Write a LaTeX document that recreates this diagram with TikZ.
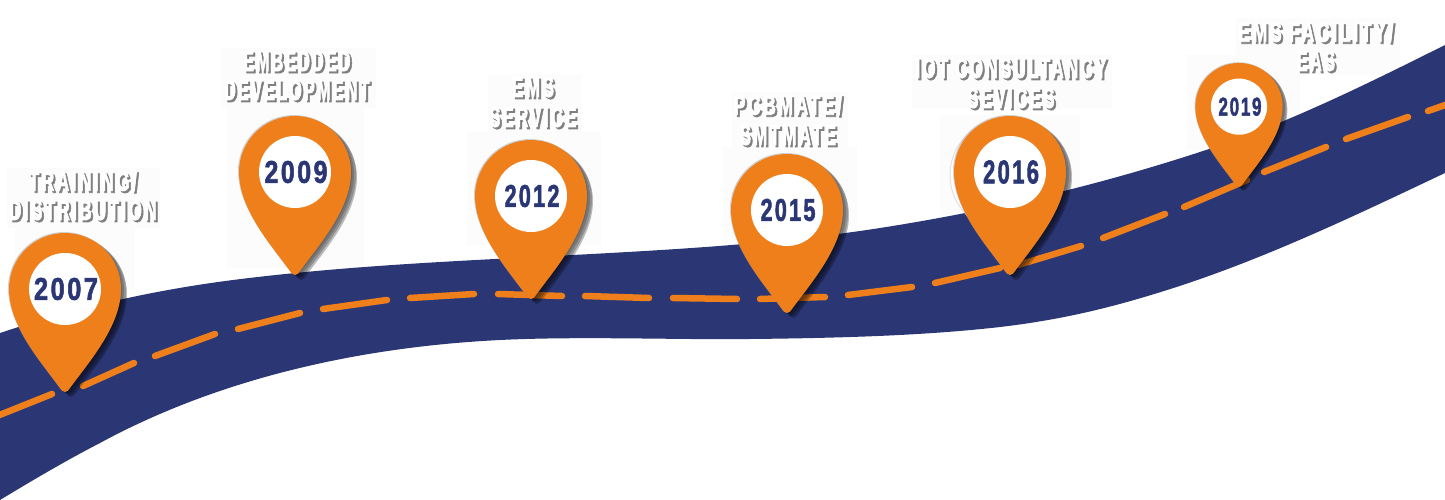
\documentclass[tikz,border=0pt]{standalone}
\usepackage{graphicx}
\usepackage{fontspec}
\setmainfont{Liberation Sans}
\newfontfamily\lblfont[LetterSpace=16,FakeBold=3]{Liberation Sans Bold}
\newfontfamily\yearfont[LetterSpace=10,FakeBold=2]{Liberation Sans Bold}
\definecolor{roadblue}{HTML}{2B3775}
\definecolor{pinorange}{HTML}{EE7F1A}
\definecolor{faintbox}{HTML}{FCFCFC}
\definecolor{lblshadow}{HTML}{808080}
\tikzset{
  faint/.style={fill=faintbox,draw=none},
  roadfill/.style={fill=roadblue,draw=none},
  roaddash/.style={draw=pinorange,line width=6.5pt,line cap=round},
  pinbody/.style={fill=pinorange,draw=none},
  pinhole/.style={fill=white,draw=none},
  shadowlayer/.style={fill=black,draw=none,fill opacity=#1},
  txt/.style={inner sep=0pt,outer sep=0pt,anchor=center},
}
\newcommand{\pinoutline}{(0,0) .. controls (-2,0) and (-4,-2) .. (-5,-4) .. controls (-24,-30) and (-56,-66) .. (-56,-103) .. controls (-56,-134) and (-31,-159) .. (0,-159) .. controls (31,-159) and (56,-134) .. (56,-103) .. controls (56,-66) and (24,-30) .. (5,-4) .. controls (4,-2) and (2,0) .. (0,0) -- cycle}
% name, cx, tip y, scale, year, year width, year height
\newcommand{\mappin}[7]{%
  \begin{scope}[shift={(#2,#3)},scale=#4]
    \fill[shadowlayer=.12] [shift={(1,1)}] \pinoutline;
    \fill[shadowlayer=.18] [shift={(3,2)}] \pinoutline;
    \fill[shadowlayer=.22] [shift={(5,3)}] \pinoutline;
    \fill[shadowlayer=.26] [shift={(6,5)}] \pinoutline;
    \fill[fill=black!35,fill opacity=.5] [shift={(-1,-1)}] \pinoutline;
    \fill[pinbody] \pinoutline;
    \fill[pinhole] (0,-103) circle (36);
  \end{scope}
  \node[txt,text=roadblue] (#1) at (#2+1,#3-103*#4) {\resizebox{#6pt}{#7pt}{\yearfont #5}};
}
% name, x, y, width, text
\newcommand{\lbl}[5]{%
  \node[txt,text=lblshadow] (#1s) at (#2+2,#3+2) {\resizebox{#4pt}{20pt}{\lblfont #5}};
  \node[txt,text=white] (#1) at (#2,#3) {\resizebox{#4pt}{20pt}{\lblfont #5}};
}
\begin{document}
\begin{tikzpicture}[x=1pt,y=-1pt]
\useasboundingbox (0,0) rectangle (1445,500);
\fill[white] (0,0) rectangle (1445,500);
% faint boxes
\foreach \a/\b/\c/\d in {7/168/160/228,15/225/135/290,222/48/376/108,227/108/364/268,488/74/582/132,466/132/601/245,732/92/848/147,722/147/857/260,912/55/1112/108,940/115/1080/215,1236/18/1400/75,1186/55/1300/150}
  \fill[faint] (\a,\b) rectangle (\c,\d);
% road
\fill[roadfill] (0,333) .. controls (78,307) and (155,290) .. (233,280)
  .. controls (359,264) and (484,260) .. (610,253)
  .. controls (700,248) and (790,242) .. (880,228)
  .. controls (989,211) and (1097,186) .. (1206,150)
  .. controls (1286,124) and (1365,85) .. (1445,45)
  -- (1445,173)
  .. controls (1350,218) and (1260,261) .. (1164,291)
  .. controls (1110,308) and (1060,320) .. (1000,327)
  .. controls (930,335) and (850,338) .. (750,339)
  .. controls (680,340) and (580,336) .. (500,340)
  .. controls (300,350) and (170,405) .. (100,443)
  .. controls (67,460) and (33,480) .. (0,500) -- cycle;
% centre dashes
\draw[roaddash] (-3,416) -- (52,394);
\draw[roaddash] (83,386) -- (134,363);
\draw[roaddash] (155,356) -- (215,334);
\draw[roaddash] (238,329) -- (300,313);
\draw[roaddash] (323,309) -- (387,300);
\draw[roaddash] (410,298) -- (474,294);
\draw[roaddash] (498,294) -- (562,296);
\draw[roaddash] (585,296) -- (649,298);
\draw[roaddash] (673,298) -- (737,299);
\draw[roaddash] (760,299) -- (825,297);
\draw[roaddash] (848,295) -- (912,287);
\draw[roaddash] (935,283) -- (1000,268);
\draw[roaddash] (1018,265) -- (1081,246);
\draw[roaddash] (1103,238) -- (1165,214);
\draw[roaddash] (1184,207) -- (1247,180);
\draw[roaddash] (1264,172) -- (1326,147);
\draw[roaddash] (1346,139) -- (1408,117);
\draw[roaddash] (1428,111) -- (1448,104);
% white crescent behind 2016
\fill[white,draw=black!12,line width=1pt] (1006,175) circle (56);
\mappin{y2007}{65}{392}{1}{2007}{64}{22}
\mappin{y2009}{295}{275}{1}{2009}{63}{22}
\mappin{y2012}{531}{299}{1}{2012}{55}{22}
\mappin{y2015}{787}{313}{1}{2015}{55}{22}
\mappin{y2016}{1010}{275}{1}{2016}{56}{23}
\mappin{y2019}{1239}{187}{.78}{2019}{43}{18}
\lbl{t1a}{83}{181}{108}{TRAINING/}
\lbl{t1b}{83}{210}{147}{DISTRIBUTION}
\lbl{t2a}{297}{61}{107}{EMBEDDED}
\lbl{t2b}{297}{90}{145}{DEVELOPMENT}
\lbl{t3a}{533}{87}{42}{EMS}
\lbl{t3b}{533}{117}{87}{SERVICE}
\lbl{t4a}{788}{105}{108}{PCBMATE/}
\lbl{t4b}{788}{135}{96}{SMTMATE}
\lbl{t5a}{1011}{68}{191}{IOT CONSULTANCY}
\lbl{t5b}{1011}{98}{87}{SEVICES}
\lbl{t6a}{1316}{32}{155}{EMS FACILITY/}
\lbl{t6b}{1316}{61}{38}{EAS}
\end{tikzpicture}
\end{document}
